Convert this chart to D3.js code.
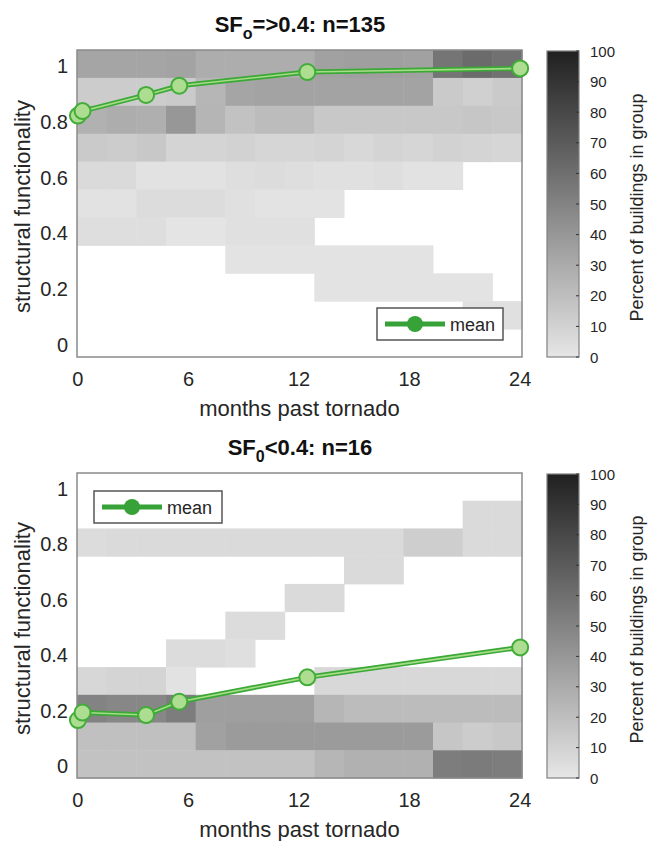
<!DOCTYPE html>
<html><head><meta charset="utf-8">
<script src="https://cdn.jsdelivr.net/npm/d3@7"></script>
<style>body{margin:0;background:#fff;} text{font-family:"Liberation Sans",Arial,Helvetica,sans-serif;}</style>
</head><body><svg id="c" width="657" height="841"></svg>
<script>
// ---- data ----
const xTicks = [0, 6, 12, 18, 24];
const yTicks = [0, 0.2, 0.4, 0.6, 0.8, 1];
const cbTicks = [0, 10, 20, 30, 40, 50, 60, 70, 80, 90, 100];
const sfRows = [1, 0.9, 0.8, 0.7, 0.6, 0.5, 0.4, 0.3, 0.2, 0.1, 0];
const xLimits = [-0.05, 24.1];
const yLimits = [-0.05, 1.05];
const nBins = 15;

// percent of buildings in group, rows = sfRows (top to bottom), 15 time bins
const topPct = [
  [33,33,33,34,29,29,29,29,35,36,36,35,57,62,59],
  [13,13,13,14,24,33,34,34,34,34,34,34,14,11,14],
  [27,29,28,40,25,18,21,21,15,15,15,15,15,16,15],
  [14,13,15,9,9,10,8,8,9,7,9,8,10,9,8],
  [6,6,2,2,2,4,5,4,3,3,4,2,2,0,0],
  [2,2,5,5,5,3,1.5,1.5,1.5,0,0,0,0,0,0],
  [4,4,4,1,1,3,3,3,0,0,0,0,0,0,0],
  [0,0,0,0,0,1.5,1.5,1.5,1.5,1.5,1.5,1.5,0,0,0],
  [0,0,0,0,0,0,0,0,1.5,1.5,1.5,1.5,1.5,1.5,0],
  [0,0,0,0,0,0,0,0,0,0,0,0,0,3,3],
  [0,0,0,0,0,0,0,0,0,0,0,0,0,0,0]
];
const botPct = [
  [0,0,0,0,0,0,0,0,0,0,0,0,0,0,0],
  [0,0,0,0,0,0,0,0,0,0,0,0,0,6,6],
  [5,6,6,6,6,6,6,6,6,6,6,12,12,6,6],
  [0,0,0,0,0,0,0,0,0,6,6,0,0,0,0],
  [0,0,0,0,0,0,0,6,6,0,0,0,0,0,0],
  [0,0,0,0,0,5,5,0,0,0,0,0,0,0,0],
  [0,0,0,5,5,3.5,0,0,0,0,0,0,0,0,0],
  [7.5,9,9,2,0,0,0,0,7,7,7,7,7,7,7],
  [50,48,48,53,36,36,36,36,24,21,21,21,21,21,21],
  [19,19,19,19,35,38,38,38,38,38,38,38,16,13,15],
  [18,18,18,18,18,18,18,18,24,27,27,27,53,54,53]
];
const meanMonths = [0, 0.25, 3.7, 5.5, 12.45, 24];
const topMeanSF = [0.815, 0.831, 0.889, 0.922, 0.971, 0.984];
const botMeanSF = [0.159, 0.186, 0.177, 0.225, 0.313, 0.421];

// ---- drawing ----
const svg = d3.select("#c");
const color = d3.scaleLinear().domain([0, 100]).range(["#e6e6e6", "#202020"]);
const x = d3.scaleLinear().domain(xLimits).range([77, 522]);
const binW = (xLimits[1] - xLimits[0]) / nBins;

const defs = svg.append("defs");
const grad = defs.append("linearGradient").attr("id", "cbg")
  .attr("x1", 0).attr("y1", 1).attr("x2", 0).attr("y2", 0);
cbTicks.forEach(v => grad.append("stop").attr("offset", v / 100).attr("stop-color", color(v)));

const panels = [
  {top: 50, bottom: 357, data: topPct, mean: topMeanSF, sub: "o", rest: "=>0.4: n=135", titleY: 32,
   legend: {x: 377, y: 308, w: 126, h: 32}},
  {top: 473, bottom: 778, data: botPct, mean: botMeanSF, sub: "0", rest: "<0.4: n=16", titleY: 455,
   legend: {x: 94, y: 491, w: 128, h: 32}}
];

panels.forEach(p => {
  const y = d3.scaleLinear().domain(yLimits).range([p.bottom, p.top]);
  const g = svg.append("g");
  // cells
  p.data.forEach((row, ri) => {
    row.forEach((v, ci) => {
      if (v <= 0) return;
      const x0 = x(xLimits[0] + ci * binW), x1 = x(xLimits[0] + (ci + 1) * binW);
      const sf = sfRows[ri];
      const y0 = y(sf + 0.05), y1 = y(sf - 0.05);
      g.append("rect").attr("x", x0).attr("y", y0)
        .attr("width", x1 - x0 + 0.5).attr("height", y1 - y0 + 0.5)
        .attr("fill", color(v));
    });
  });
  // box
  g.append("rect").attr("x", x(xLimits[0])).attr("y", p.top)
    .attr("width", x(xLimits[1]) - x(xLimits[0])).attr("height", p.bottom - p.top)
    .attr("fill", "none").attr("stroke", "#8a8a8a").attr("stroke-width", 1.5);
  // x ticks
  xTicks.forEach(t => {
    g.append("text").attr("x", x(t)).attr("y", p.bottom + 29)
      .attr("text-anchor", "middle").attr("font-size", 20).attr("fill", "#262626").text(t);
  });
  // y ticks
  yTicks.forEach(t => {
    g.append("text").attr("x", 68).attr("y", y(t) + 2).attr("dominant-baseline", "central")
      .attr("text-anchor", "end").attr("font-size", 20).attr("fill", "#262626").text(t);
  });
  // axis labels
  g.append("text").attr("x", (x(xLimits[0]) + x(xLimits[1])) / 2).attr("y", p.bottom + 59)
    .attr("text-anchor", "middle").attr("font-size", 22).attr("fill", "#262626").text("months past tornado");
  const cy = (p.top + p.bottom) / 2 + 3;
  g.append("text").attr("transform", `translate(30,${cy}) rotate(-90)`)
    .attr("text-anchor", "middle").attr("font-size", 22).attr("fill", "#262626").text("structural functionality");
  // title
  const tt = g.append("text").attr("x", 300).attr("y", p.titleY).attr("text-anchor", "middle")
    .attr("font-size", 22).attr("font-weight", "bold").attr("fill", "#111");
  tt.append("tspan").text("SF");
  tt.append("tspan").attr("font-size", 16).attr("dy", 7).text(p.sub);
  tt.append("tspan").attr("dy", -7).text(p.rest);
  // mean line
  const pts = meanMonths.map((m, i) => [x(m), y(p.mean[i])]);
  const line = d3.line();
  g.append("path").attr("d", line(pts)).attr("fill", "none").attr("stroke", "#3aa935").attr("stroke-width", 5).attr("stroke-linejoin", "round");
  g.append("path").attr("d", line(pts)).attr("fill", "none").attr("stroke", "#a6db88").attr("stroke-width", 1.6).attr("stroke-linejoin", "round");
  pts.forEach(pt => {
    g.append("circle").attr("cx", pt[0]).attr("cy", pt[1]).attr("r", 8)
      .attr("fill", "#addd90").attr("stroke", "#41ad38").attr("stroke-width", 2);
  });
  // legend
  const L = p.legend;
  g.append("rect").attr("x", L.x).attr("y", L.y).attr("width", L.w).attr("height", L.h)
    .attr("fill", "#fff").attr("stroke", "#555").attr("stroke-width", 1.5);
  const ly = L.y + L.h / 2;
  g.append("line").attr("x1", L.x + 8).attr("x2", L.x + 68).attr("y1", ly).attr("y2", ly)
    .attr("stroke", "#37a237").attr("stroke-width", 5);
  g.append("circle").attr("cx", L.x + 38).attr("cy", ly).attr("r", 8).attr("fill", "#37a237");
  g.append("text").attr("x", L.x + 73).attr("y", ly + 1).attr("dominant-baseline", "central")
    .attr("font-size", 18).attr("fill", "#262626").text("mean");
  // colorbar
  const cb = d3.scaleLinear().domain([0, 100]).range([p.bottom, p.top + 1]);
  g.append("rect").attr("x", 547).attr("y", cb(100)).attr("width", 32).attr("height", cb(0) - cb(100))
    .attr("fill", "url(#cbg)").attr("stroke", "#808080").attr("stroke-width", 1.2);
  cbTicks.forEach(t => {
    g.append("line").attr("x1", 576).attr("x2", 579).attr("y1", cb(t)).attr("y2", cb(t)).attr("stroke", "#333").attr("stroke-width", 1);
    g.append("text").attr("x", 590).attr("y", cb(t)).attr("dominant-baseline", "central")
      .attr("font-size", 15).attr("fill", "#262626").text(t);
  });
  g.append("text").attr("transform", `translate(643,${(p.top + p.bottom) / 2 + 4}) rotate(-90)`)
    .attr("text-anchor", "middle").attr("font-size", 18).attr("fill", "#262626").text("Percent of buildings in group");
});
</script></body></html>
